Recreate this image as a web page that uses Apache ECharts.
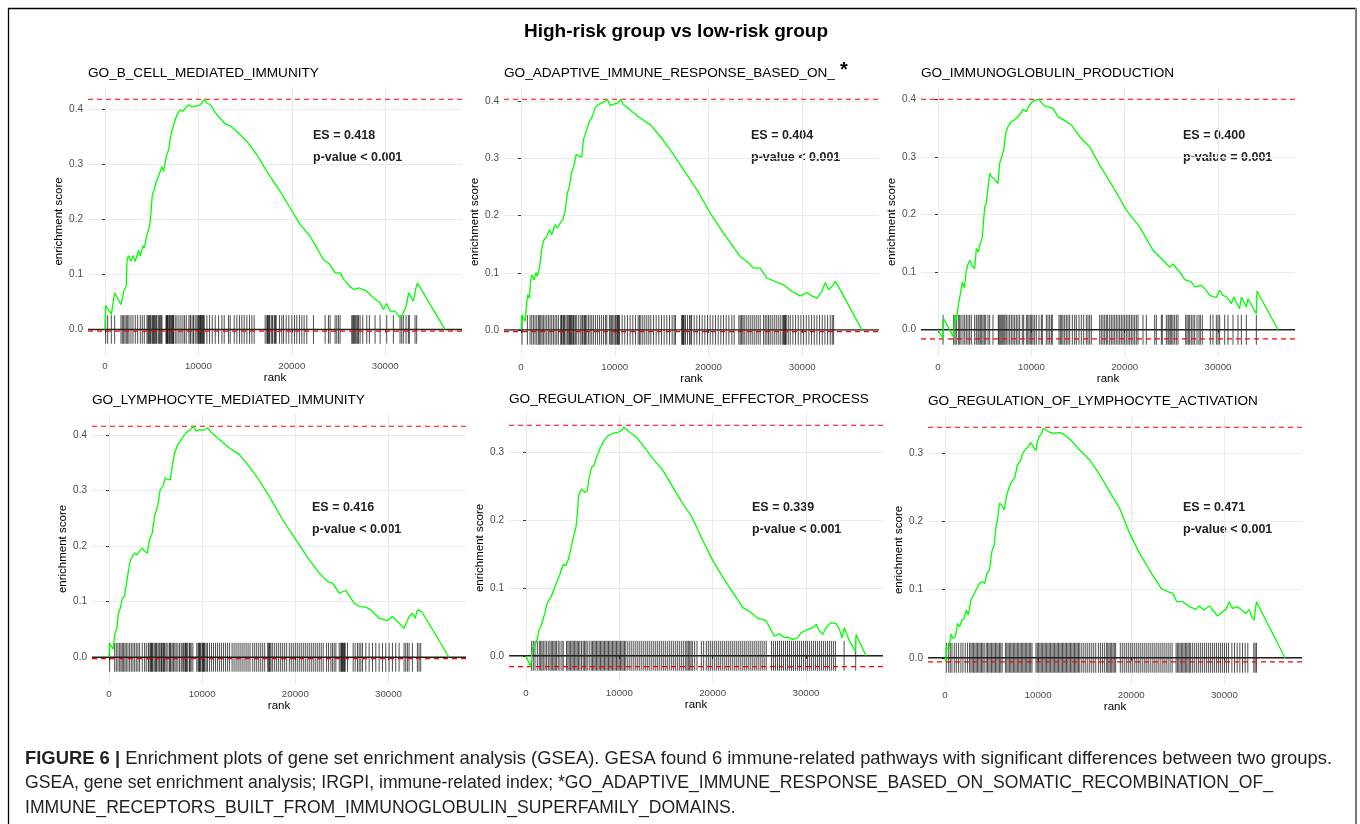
<!DOCTYPE html>
<html>
<head>
<meta charset="utf-8">
<title>GSEA enrichment plots</title>
<script src="https://cdn.jsdelivr.net/npm/echarts@6/dist/echarts.min.js"></script>
<style>
html,body{margin:0;padding:0;background:#fff;}
#chart{width:1360px;height:824px;}
</style>
</head>
<body>
<div id="chart"></div>
<script>
var mainTitle = 'High-risk group vs low-risk group';
var pathways = ['GO_B_CELL_MEDIATED_IMMUNITY', 'GO_ADAPTIVE_IMMUNE_RESPONSE_BASED_ON_', 'GO_IMMUNOGLOBULIN_PRODUCTION',
	'GO_LYMPHOCYTE_MEDIATED_IMMUNITY', 'GO_REGULATION_OF_IMMUNE_EFFECTOR_PROCESS', 'GO_REGULATION_OF_LYMPHOCYTE_ACTIVATION'];
var esLabels = ['ES = 0.418', 'ES = 0.404', 'ES = 0.400', 'ES = 0.416', 'ES = 0.339', 'ES = 0.471'];
var pLabels = ['p-value < 0.001', 'p-value < 0.001', 'p-value = 0.001', 'p-value < 0.001', 'p-value < 0.001', 'p-value < 0.001'];
var xTicks = [0, 10000, 20000, 30000];
var yTicksTop = [0, 0.1, 0.2, 0.3, 0.4];
var yTicksLow = [0, 0.1, 0.2, 0.3];
var captionLines = [
	'{b|FIGURE 6 |} Enrichment plots of gene set enrichment analysis (GSEA). GESA found 6 immune-related pathways with significant differences between two groups.',
	'GSEA, gene set enrichment analysis; IRGPI, immune-related index; *GO_ADAPTIVE_IMMUNE_RESPONSE_BASED_ON_SOMATIC_RECOMBINATION_OF_',
	'IMMUNE_RECEPTORS_BUILT_FROM_IMMUNOGLOBULIN_SUPERFAMILY_DOMAINS.'
];

// running enrichment score, [rank, ES]
var curve1 = [[0,0],[30,-0.003],[71,0.0435],[677,0.0272],[1034,0.0665],[1711,0.0453],[2068,0.0725],[2282,0.0785],[2353,0.1239],[2496,0.1341],[2781,0.1239],[2995,0.1341],[3244,0.1239],[3601,0.1438],[3779,0.1329],[4064,0.1523],[4207,0.148],[4492,0.1722],[4777,0.1873],[4920,0.2115],[5062,0.2447],[5276,0.2538],[5419,0.2659],[5740,0.2779],[6096,0.2961],[6274,0.287],[6488,0.284],[6560,0.3142],[6809,0.3263],[7059,0.3535],[7344,0.3716],[7700,0.3897],[8057,0.3988],[8342,0.3958],[8592,0.4018],[8948,0.4079],[9305,0.4036],[9661,0.406],[10018,0.406],[10374,0.4109],[10624,0.418],[10909,0.4109],[11265,0.4079],[11978,0.3897],[12870,0.3734],[13404,0.3698],[14117,0.3595],[15187,0.3414],[16256,0.3172],[17326,0.287],[18752,0.2508],[19821,0.2205],[20891,0.1903],[21960,0.1692],[23386,0.1269],[24099,0.1178],[24634,0.1027],[25169,0.1027],[25525,0.0918],[26238,0.0773],[26666,0.0725],[27130,0.0755],[27664,0.0725],[28021,0.0695],[28734,0.0574],[29447,0.0483],[29803,0.0363],[30160,0.0471],[30516,0.0332],[31051,0.0332],[31586,0.0211],[31942,0.0302],[32228,0.0423],[32513,0.0665],[32727,0.0634],[33012,0.0514],[33297,0.0755],[33440,0.0846],[36399,0]];
var curve2 = [[0,0],[60,-0.003],[107,0.0263],[427,0.0146],[605,0.0468],[712,0.0614],[890,0.0556],[1032,0.0877],[1174,0.0965],[1388,0.0877],[1602,0.1006],[1744,0.0936],[1957,0.1082],[2100,0.1111],[2242,0.1462],[2456,0.1579],[2740,0.1637],[3025,0.1754],[3274,0.1667],[3630,0.1842],[3879,0.1784],[4164,0.1871],[4449,0.193],[4698,0.2076],[4947,0.2398],[5161,0.2515],[5374,0.2749],[5659,0.2895],[5872,0.307],[6015,0.3099],[6228,0.3041],[6477,0.3029],[6655,0.3333],[7011,0.3509],[7296,0.3655],[7545,0.3713],[7901,0.3889],[8257,0.3947],[8613,0.3977],[8969,0.4006],[9218,0.4035],[9502,0.393],[10036,0.3965],[10392,0.3977],[10641,0.404],[10926,0.3947],[11816,0.383],[12706,0.3713],[13773,0.3596],[14841,0.3392],[15909,0.3158],[17333,0.2807],[18756,0.2456],[20180,0.2047],[21603,0.1696],[22493,0.1491],[23383,0.1287],[24094,0.1199],[24806,0.1082],[25518,0.1082],[26230,0.0906],[27120,0.0848],[28009,0.0789],[28899,0.0673],[29789,0.0596],[30501,0.0655],[31034,0.0596],[31568,0.0556],[32102,0.0673],[32458,0.083],[32814,0.0702],[33170,0.076],[33526,0.0848],[33704,0.0807],[36373,0]];
var curve3 = [[0,0],[536,-0.0157],[607,0.0191],[1678,-0.0128],[1786,0.022],[1964,0.0162],[2143,0.0394],[2321,0.0365],[2464,0.0684],[2607,0.0829],[2821,0.073],[3035,0.1032],[3178,0.1119],[3392,0.1206],[3607,0.1119],[3928,0.1061],[4107,0.1409],[4321,0.1351],[4535,0.1496],[4749,0.1612],[5000,0.2133],[5178,0.2191],[5392,0.2191],[5535,0.2713],[5749,0.2655],[5964,0.2626],[6428,0.2539],[6607,0.2887],[6785,0.2858],[7035,0.3119],[7249,0.3409],[7499,0.3525],[7856,0.3612],[8213,0.3641],[8749,0.3728],[9106,0.3826],[9463,0.3786],[9820,0.3901],[10106,0.3959],[10534,0.3988],[10820,0.4],[11070,0.3942],[11427,0.3884],[12320,0.3843],[12856,0.3699],[13748,0.3612],[14284,0.3554],[15177,0.3351],[16248,0.3177],[17320,0.2858],[18748,0.2481],[20176,0.2075],[21605,0.1786],[23033,0.138],[24104,0.1206],[24818,0.109],[25176,0.1136],[25890,0.1003],[26425,0.087],[27140,0.0829],[27497,0.0742],[28211,0.0771],[28747,0.0684],[29104,0.0597],[29818,0.0557],[30175,0.0684],[30532,0.0597],[30961,0.0568],[31425,0.0452],[31675,0.0568],[32318,0.0365],[32497,0.0568],[33032,0.0394],[33211,0.0539],[34103,0.0278],[34174,0.0672],[36424,0]];
var curve4 = [[0,0],[40,-0.0024],[71,0.0252],[429,0.0144],[643,0.0432],[857,0.0523],[1000,0.0793],[1214,0.0883],[1428,0.1063],[1643,0.1093],[1857,0.1303],[2071,0.1333],[2214,0.1694],[2500,0.1814],[2750,0.1874],[3000,0.1844],[3285,0.1904],[3571,0.1964],[3857,0.1904],[4107,0.1874],[4357,0.2114],[4642,0.2234],[4892,0.2535],[5249,0.2745],[5499,0.3015],[5785,0.3075],[6035,0.3225],[6321,0.3195],[6571,0.3195],[6785,0.3435],[7035,0.3676],[7392,0.3826],[7749,0.3916],[8106,0.4006],[8463,0.4066],[8820,0.4108],[9070,0.4156],[9356,0.4066],[9713,0.4096],[10141,0.4084],[10606,0.4126],[10963,0.4048],[11856,0.3916],[12927,0.3766],[13998,0.3646],[14891,0.3465],[15962,0.3225],[17212,0.2895],[18640,0.2474],[20069,0.2114],[21497,0.1754],[22569,0.1514],[23461,0.1363],[23997,0.1333],[24711,0.1153],[25425,0.1201],[26318,0.0973],[26853,0.0913],[27567,0.0901],[28103,0.0853],[28996,0.0703],[29889,0.0661],[30424,0.0733],[30960,0.0643],[31674,0.0523],[32210,0.0733],[32567,0.0793],[32853,0.0703],[33103,0.0853],[33567,0.0823],[36496,0]];
var curve5 = [[0,0],[499,-0.016],[713,0.0118],[963,0.0167],[1212,0.0241],[1355,0.0373],[1569,0.0413],[1783,0.0511],[2032,0.0634],[2282,0.0781],[2496,0.0806],[2745,0.088],[2995,0.0978],[3280,0.1076],[3636,0.1199],[3993,0.1346],[4278,0.1322],[4528,0.142],[4777,0.1543],[5062,0.174],[5348,0.1887],[5490,0.2059],[5633,0.2354],[5954,0.2452],[6310,0.2403],[6560,0.2428],[6774,0.2624],[7023,0.2771],[7273,0.2796],[7558,0.2919],[7914,0.3042],[8342,0.3165],[8806,0.3238],[9340,0.3273],[9875,0.3287],[10232,0.3312],[10481,0.3361],[10695,0.339],[11123,0.3287],[11836,0.3214],[12549,0.3091],[13618,0.2895],[14688,0.2722],[15757,0.2477],[16827,0.2231],[17718,0.2059],[18788,0.174],[20035,0.1396],[21105,0.115],[22174,0.0929],[23244,0.0708],[24135,0.0634],[24848,0.055],[25383,0.0536],[25739,0.0511],[26274,0.0373],[26631,0.029],[27165,0.0324],[27700,0.0265],[28057,0.0275],[28591,0.0241],[29126,0.0265],[29483,0.0339],[30196,0.0388],[30731,0.0413],[31087,0.0462],[31443,0.0364],[31800,0.0314],[32156,0.0413],[32691,0.0486],[33226,0.0472],[33582,0.0388],[33868,0.0265],[34117,0.0413],[34652,0.0216],[35294,0.0069],[35365,0.0314],[36434,0]];
var curve6 = [[0,0],[80,-0.006],[143,0.0162],[392,0.0113],[642,0.0348],[856,0.0284],[1105,0.0309],[1355,0.0505],[1569,0.0456],[1818,0.0554],[2068,0.0578],[2282,0.0701],[2496,0.0627],[2781,0.0848],[3066,0.0922],[3422,0.102],[3708,0.1093],[3993,0.1118],[4278,0.1093],[4492,0.124],[4777,0.1289],[5027,0.1559],[5276,0.1657],[5490,0.1926],[5633,0.2025],[5847,0.227],[6096,0.2245],[6346,0.2172],[6631,0.2392],[6916,0.2515],[7166,0.2588],[7522,0.2662],[7772,0.2833],[8057,0.2882],[8342,0.3005],[8592,0.3054],[8948,0.3103],[9198,0.3162],[9483,0.3103],[9768,0.3044],[9911,0.3176],[10125,0.325],[10374,0.3299],[10552,0.3373],[10731,0.3387],[11087,0.3324],[11622,0.3299],[12335,0.3309],[12870,0.3275],[13404,0.3211],[14474,0.3054],[15543,0.2907],[16613,0.2686],[17682,0.2441],[18752,0.2196],[19821,0.1828],[20891,0.1534],[21960,0.1289],[23208,0.102],[23921,0.0971],[24456,0.0946],[24884,0.0824],[25525,0.0824],[26238,0.075],[26951,0.0711],[27307,0.076],[27842,0.0701],[28377,0.076],[28912,0.0676],[29269,0.0613],[29803,0.0676],[30160,0.0711],[30516,0.0824],[30873,0.0725],[31408,0.075],[31943,0.0691],[32299,0.0652],[32655,0.0711],[32941,0.0603],[33191,0.0554],[33440,0.0824],[36506,0]];

// ranks of the gene set members (rug)
var hits1 = [71,285,677,1034,1711,1854,1996,2139,2282,2424,2567,2781,2995,3244,3494,3779,3993,4207,4492,4599,4670,4777,4848,4920,5062,5134,5205,5312,5383,5490,5561,5740,5847,5918,6025,6096,6524,6595,6631,6702,6738,6845,6916,6987,7094,7166,7237,7308,7344,7522,7700,7914,8128,8342,8520,8699,8984,9126,9198,9412,9483,9661,9839,9946,10018,10125,10196,10232,10339,10410,10481,10553,10624,10909,11194,11479,11800,12157,12513,12763,13226,13404,13832,14117,14403,14652,14902,15187,15472,15722,15971,17148,17326,17397,17469,17540,17611,17789,17897,17968,18146,18253,18324,18681,18930,19108,19394,19679,19999,20285,20534,20819,21069,21318,21604,22317,23565,23921,24099,24634,24812,24991,25169,26417,26524,26595,26702,26809,26951,27059,27130,27308,27593,28021,28306,28912,29447,30160,30873,31586,31764,31942,32228,32478,32585,33191,33369];
var hits2 = [107,676,961,1139,1317,1495,1673,1851,1957,2100,2242,2385,2562,2740,2918,3096,3274,3452,3630,3808,3986,4235,4306,4378,4520,4591,4662,4805,4947,5089,5161,5232,5303,5374,5516,5588,5659,5801,5943,6157,6371,6513,6584,6727,6798,6869,7011,7189,7367,7545,7723,7937,8150,8364,8577,8791,9004,9147,9431,9574,9680,9787,9930,10072,10214,10286,10357,10428,10499,10784,11068,11353,11638,11923,12207,12492,12634,12777,12990,13204,13417,13631,13845,14129,14414,14699,14983,15268,15553,15838,16122,16336,16478,17154,17190,17261,17333,17404,17546,17759,17973,18115,18186,18471,18756,19041,19325,19610,19895,20180,20464,20749,21034,21318,21603,21888,22173,22493,22742,23240,23383,23525,23667,23810,24023,24237,24450,24664,24877,25091,25304,25518,25874,26052,26230,26408,26586,26799,27013,27226,27440,27653,27867,28009,28081,28152,28223,28294,28508,28721,29006,29291,29575,29860,30145,30429,30714,30999,31283,31568,31853,32138,32422,32707,32992,33205,33348];
var hits3 = [536,1678,1821,1964,2178,2321,2464,2678,2857,3035,3214,3392,3571,3928,4107,4285,4392,4535,4678,4821,4964,5107,5357,5535,5892,6464,6535,6642,6749,6856,6963,7071,7178,7321,7499,7678,7856,8035,8213,8392,8570,8749,9035,9177,9463,9606,9749,9892,10035,10177,10356,10534,10820,11070,11177,11606,11784,11963,12141,12249,12963,13106,13248,13391,13570,13748,13927,14105,14391,14641,14820,15105,15355,15605,15891,16070,16248,16427,17319,17498,17676,17855,18034,18177,18391,18569,18748,18926,19105,19283,19462,19641,19819,19998,20176,20355,20533,20712,20890,21069,21247,21426,21962,22319,23212,23390,23926,24033,24461,24640,24747,24890,25033,25176,25354,25533,25711,26532,26675,26818,26961,27140,27318,27497,27747,27961,28104,28318,29175,29461,29818,29996,30175,30711,31068,31604,32139,32497,33032,34103];
var hits4 = [71,607,786,964,1143,1286,1428,1571,1714,1857,2035,2214,2393,2571,2750,2928,3107,3285,3571,3821,4000,4214,4285,4428,4499,4571,4642,4714,4857,5000,5071,5142,5285,5428,5571,5642,5714,5856,5928,5999,6142,6321,6499,6571,6642,6785,6928,7071,7213,7392,7571,7749,7856,7999,8142,8213,8285,8356,8463,8642,8713,8820,8999,9427,9570,9642,9713,9785,9856,9999,10070,10141,10213,10284,10427,10570,10784,10999,11213,11427,11641,11856,12070,12284,12499,12713,12927,13213,13427,13641,13855,14070,14284,14498,14713,14927,15141,15427,15641,15855,16070,16284,16498,16712,17034,17141,17212,17284,17391,17569,17784,17998,18212,18426,18640,18855,19069,19355,19569,19783,19998,20212,20426,20640,20855,21069,21283,21497,21712,21926,22140,22354,22569,22783,22997,23354,23569,23818,23997,24176,24354,24711,24890,24925,24997,25068,25140,25211,25283,25354,25604,26211,26425,26675,26854,27032,27211,27568,27925,28282,28639,28996,29353,29710,30067,30424,30781,31138,31674,31852,32031,32210,32567,33103,33282,33460];
var hits5 = [606,784,963,1212,1426,1569,1711,1854,2032,2210,2389,2567,2709,2852,2995,3137,3280,3458,3636,3850,3993,4349,4492,4635,4777,4920,5062,5205,5348,5490,5633,5775,5954,6132,6274,6417,6560,6774,6987,7130,7273,7415,7558,7700,7843,7986,8128,8271,8413,8556,8699,8841,8984,9126,9269,9412,9554,9697,9839,9982,10125,10267,10410,10552,10695,10909,11123,11337,11551,11765,11978,12192,12406,12620,12834,13048,13262,13476,13690,13904,14117,14331,14545,14759,14973,15187,15401,15615,15829,16043,16256,16470,16684,16898,17112,17255,17397,17540,17682,17825,18075,18324,18788,19037,19322,19536,19750,19964,20178,20392,20606,20820,21034,21247,21461,21675,21889,22103,22317,22531,22745,22959,23173,23386,23600,23814,24028,24242,24456,24670,24884,25098,25312,25525,25739,26310,26524,26738,26951,27165,27379,27593,27807,28021,28235,28449,28663,28877,29090,29304,29518,29732,29946,30160,30374,30588,30802,31016,31229,31443,31657,31871,32085,32299,32513,32727,32941,33155,34082,35330];
var hits6 = [143,392,570,749,998,1212,1462,1711,1925,2175,2424,2638,2781,2923,3066,3208,3351,3494,3636,3779,3921,4064,4207,4421,4563,4706,4848,4991,5134,5276,5419,5561,5704,5847,5989,6132,6488,6631,6773,6916,7059,7201,7344,7486,7629,7772,7914,8057,8199,8342,8485,8627,8770,8912,9055,9198,9340,9768,9911,10053,10196,10338,10481,10624,10766,10909,11051,11194,11337,11479,11622,11764,11907,12050,12192,12335,12477,12620,12763,12905,13048,13190,13333,13476,13618,13761,13903,14046,14189,14331,14474,14688,14902,15116,15330,15543,15757,15971,16185,16470,16684,16898,17112,17326,17468,17611,17754,17896,18039,18181,18324,18823,19037,19251,19465,19679,19893,20107,20321,20534,20748,20962,21176,21390,21604,21818,22032,22246,22460,22673,22887,23101,23315,23529,23743,23957,24171,24385,24812,24955,25097,25240,25383,25525,25668,25811,25953,26096,26238,26381,26595,26809,27023,27237,27451,27664,27878,28092,28306,28520,28734,28948,29162,29376,29590,29803,30017,30231,30445,30802,31087,31372,31658,31943,32229,32514,33155,33298,33440];

var curves = [curve1, curve2, curve3, curve4, curve5, curve6];
var hits = [hits1, hits2, hits3, hits4, hits5, hits6];
var yTicks = [yTicksTop, yTicksTop, yTicksTop, yTicksTop, yTicksLow, yTicksLow];

// plot rectangles (px) and rug half height in ES units
var panels = [
	{left: 88, top: 87, width: 374, height: 269, rug: 0.026, textX: 313, textY: 136, titleY: 73},
	{left: 504, top: 87, width: 375, height: 270, rug: 0.026, textX: 751, textY: 136, titleY: 73},
	{left: 921, top: 87, width: 374, height: 270, rug: 0.026, textX: 1183, textY: 136, titleY: 73},
	{left: 92, top: 414, width: 374, height: 270, rug: 0.026, textX: 312, textY: 508, titleY: 400},
	{left: 509, top: 413, width: 374, height: 270, rug: 0.022, textX: 752, textY: 508, titleY: 399},
	{left: 928, top: 415, width: 374, height: 270, rug: 0.022, textX: 1183, textY: 508, titleY: 401}
];

var FONT = '"Liberation Sans", Arial, Helvetica, sans-serif';
var GREEN = '#00ff00';
var RED = '#ff0000';

function esRange(curve) {
	var lo = Infinity, hi = -Infinity;
	for (var i = 0; i < curve.length; i++) {
		if (curve[i][1] < lo) lo = curve[i][1];
		if (curve[i][1] > hi) hi = curve[i][1];
	}
	return [lo, hi];
}

function hline(i, x0, x1, v, color, type, width) {
	return {
		type: 'line', xAxisIndex: i, yAxisIndex: i, silent: true,
		data: [[x0, v], [x1, v]], showSymbol: false, symbol: 'none',
		lineStyle: {color: color, type: type, width: width}, z: 3
	};
}

var grids = [], xAxes = [], yAxes = [], series = [], graphics = [];

panels.forEach(function(p, i) {
	var curve = curves[i];
	var n = curve[curve.length - 1][0];
	var r = esRange(curve);
	var lo = Math.min(r[0], -p.rug), hi = Math.max(r[1], p.rug);
	var pad = (hi - lo) * 0.05;
	var xmin = -0.05 * n, xmax = 1.05 * n;

	grids.push({left: p.left, top: p.top, width: p.width, height: p.height});

	xAxes.push({
		gridIndex: i, type: 'value', min: xmin, max: xmax,
		name: 'rank', nameLocation: 'middle', nameGap: 16,
		nameTextStyle: {fontFamily: FONT, fontSize: 11.5, color: '#000'},
		axisLine: {show: false},
		axisTick: {show: true, length: 3, customValues: xTicks, lineStyle: {color: '#333', width: 1}},
		axisLabel: {customValues: xTicks, fontFamily: FONT, fontSize: 9.7, color: '#4d4d4d', margin: 5,
			formatter: function(v) { return String(v); }},
		splitLine: {show: true, lineStyle: {color: '#ebebeb', width: 1}}
	});
	yAxes.push({
		gridIndex: i, type: 'value', min: lo - pad, max: hi + pad,
		name: 'enrichment score', nameLocation: 'middle', nameGap: 22,
		nameTextStyle: {fontFamily: FONT, fontSize: 11.5, color: '#000'},
		axisLine: {show: false},
		axisTick: {show: true, length: 3, customValues: yTicks[i], lineStyle: {color: '#333', width: 1}},
		axisLabel: {customValues: yTicks[i], fontFamily: FONT, fontSize: 10, color: '#4d4d4d', margin: 5,
			formatter: function(v) { return v.toFixed(1); }},
		splitLine: {show: true, lineStyle: {color: '#ebebeb', width: 1}}
	});

	var half = p.rug;
	series.push({
		type: 'custom', xAxisIndex: i, yAxisIndex: i, silent: true, z: 2,
		data: hits[i].map(function(h) { return [h, 0]; }),
		encode: {x: 0, y: 1},
		renderItem: function(params, api) {
			var a = api.coord([api.value(0), half]);
			var b = api.coord([api.value(0), -half]);
			return {type: 'line', shape: {x1: a[0], y1: a[1], x2: b[0], y2: b[1]},
				style: {stroke: 'rgba(0,0,0,0.7)', lineWidth: 1}};
		}
	});
	series.push(hline(i, xmin, xmax, 0, '#222', 'solid', 1.4));
	series.push(hline(i, xmin, xmax, r[1], RED, [5, 4], 1.2));
	series.push(hline(i, xmin, xmax, r[0], RED, [5, 4], 1.2));
	series.push({
		type: 'line', xAxisIndex: i, yAxisIndex: i, silent: true,
		data: curve, showSymbol: false, symbol: 'none',
		lineStyle: {color: GREEN, width: 1.3}, z: 5
	});

	graphics.push({type: 'text', x: p.left, y: p.titleY, silent: true,
		style: {text: pathways[i], font: '13.6px ' + FONT, fill: '#000', textVerticalAlign: 'middle'}});
	graphics.push({type: 'text', x: p.textX, y: p.textY, silent: true,
		style: {text: esLabels[i], font: 'bold 12.5px ' + FONT, fill: '#222', textVerticalAlign: 'middle'}});
	graphics.push({type: 'text', x: p.textX, y: p.textY + 22, silent: true,
		style: {text: pLabels[i], font: 'bold 12.5px ' + FONT, fill: '#222', textVerticalAlign: 'middle'}});
});

// asterisk after the truncated pathway name
graphics.push({type: 'text', x: 840, y: 70, silent: true,
	style: {text: '*', font: 'bold 20px ' + FONT, fill: '#000', textVerticalAlign: 'middle'}});
graphics.push({type: 'text', x: 676, y: 32, silent: true,
	style: {text: mainTitle, font: 'bold 19px ' + FONT, fill: '#000', textAlign: 'center', textVerticalAlign: 'middle'}});

// figure frame
graphics.push({type: 'line', silent: true, shape: {x1: 8, y1: 8.5, x2: 1356, y2: 8.5}, style: {stroke: '#000', lineWidth: 1.3}});
graphics.push({type: 'line', silent: true, shape: {x1: 8.5, y1: 8, x2: 8.5, y2: 824}, style: {stroke: '#000', lineWidth: 1.3}});
graphics.push({type: 'line', silent: true, shape: {x1: 1356, y1: 8, x2: 1356, y2: 824}, style: {stroke: '#7a7a7a', lineWidth: 2}});

var captionSizes = [18.4, 17.6, 17.6];
captionLines.forEach(function(line, i) {
	graphics.push({type: 'text', x: 25, y: 759 + i * 24.5, silent: true,
		style: {text: line, font: captionSizes[i] + 'px ' + FONT, fill: '#231f20', textVerticalAlign: 'middle',
			rich: {b: {fontWeight: 'bold', fontSize: captionSizes[i], fontFamily: FONT, fill: '#231f20'}}}});
});

var chart = echarts.init(document.getElementById('chart'));
chart.setOption({
	animation: false,
	backgroundColor: '#fff',
	grid: grids,
	xAxis: xAxes,
	yAxis: yAxes,
	series: series,
	graphic: {elements: graphics}
});
</script>
</body>
</html>
